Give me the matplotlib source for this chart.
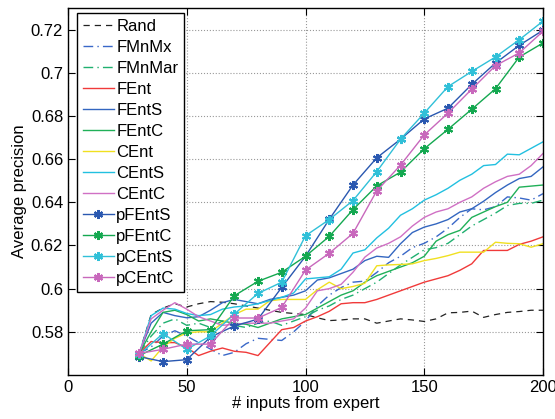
import matplotlib
matplotlib.use("Agg")
import matplotlib.pyplot as plt

plt.rcParams['font.family'] = ['Liberation Sans', 'DejaVu Sans']

# x positions: curves are sampled every 5 inputs, marked curves every 10
x_fine = list(range(30, 205, 5))
x_coarse = list(range(30, 210, 10))

rand = [.570, .588, .591, .593, .5915, .593, .594, .5937, .593, .592,
        .591, .590, .589, .5885, .588, .5865, .5852, .5855, .586, .586,
        .584, .585, .586, .5855, .5848, .586, .5888, .589, .5896, .5867,
        .588, .589, .5894, .590, .590]
fmnmx = [.570, .573, .578, .5805, .578, .575, .572, .569, .5705, .5745,
         .577, .5765, .576, .580, .585, .592, .597, .6005, .603, .6035,
         .6075, .612, .615, .619, .621, .624, .628, .633, .637, .6365,
         .638, .6425, .642, .641, .644]
fmnmar = [.570, .578, .584, .586, .583, .584, .582, .585, .583, .582,
          .584, .585, .583, .585, .587, .590, .592, .595, .597, .600,
          .603, .607, .611, .6145, .618, .619, .621, .625, .629, .632,
          .635, .6385, .6395, .6395, .641]
fent = [.570, .5755, .575, .575, .5727, .569, .571, .5725, .571, .5705,
        .569, .575, .581, .582, .585, .587, .5895, .593, .5935, .5935,
        .595, .597, .599, .601, .603, .6045, .606, .6085, .6115, .6177,
        .6177, .6177, .6205, .622, .624]
fents = [.570, .584, .589, .5875, .5865, .587, .590, .5935, .595, .594,
         .593, .595, .596, .597, .599, .604, .605, .607, .609, .613,
         .615, .6145, .6208, .626, .6285, .630, .632, .6355, .637, .6405,
         .6445, .648, .651, .652, .6564]
fentc = [.570, .580, .589, .590, .588, .585, .586, .585, .584, .5835,
         .582, .584, .586, .587, .588, .591, .594, .597, .599, .603,
         .606, .608, .610, .612, .615, .622, .625, .627, .633, .6355,
         .638, .640, .647, .6475, .648]
cent = [.570, .5665, .573, .577, .5795, .580, .580, .584, .588, .5905,
        .5905, .5944, .595, .595, .595, .5995, .603, .600, .601, .6025,
        .6106, .611, .6112, .6115, .613, .614, .6153, .6169, .6169, .6169,
        .6215, .621, .6208, .6192, .6208]
cents = [.570, .5875, .591, .5905, .5885, .5875, .588, .5905, .5915, .592,
         .593, .5945, .596, .598, .6045, .605, .6055, .609, .6165, .618,
         .6235, .628, .634, .637, .641, .6435, .6465, .6502, .653, .657,
         .6575, .6623, .662, .665, .668]
centc = [.570, .586, .590, .5935, .5905, .587, .585, .583, .5835, .584,
         .584, .584, .585, .586, .591, .599, .600, .602, .6076, .6146,
         .6188, .621, .624, .629, .633, .6355, .637, .640, .6425, .6465,
         .6495, .652, .653, .657, .6626]

pfents = [.5685, .5662, .5671, .5776, .5827, .5859, .6006, .615, .6321,
          .648, .6606, .6692, .6786, .6836, .6946, .7045, .7127, .7197]
pfentc = [.569, .5743, .5805, .581, .5967, .6034, .6076, .615, .6242,
          .6366, .6476, .654, .6648, .6738, .6831, .6926, .7073, .7138]
pcents = [.5695, .5792, .5719, .5781, .5882, .5978, .603, .6245, .632,
          .6408, .6542, .6692, .6813, .6936, .7006, .7073, .7153, .7239]
pcentc = [.570, .5719, .5743, .5743, .5864, .5864, .5913, .6086, .6164,
          .6256, .6453, .6572, .6712, .6813, .6924, .7033, .7092, .7192]

fig = plt.figure(figsize=(5.55, 4.19), dpi=100)
ax = fig.add_axes([68 / 555, 44 / 419, 475 / 555, 367 / 419])

ax.plot(x_fine, rand, color="#222222", ls=(0, (5, 4)), lw=0.9, label="Rand")
ax.plot(x_fine, fmnmx, color="#3a68c8", ls=(0, (7, 3, 1, 3)), lw=1, label="FMnMx")
ax.plot(x_fine, fmnmar, color="#20b070", ls=(0, (7, 3, 1, 3)), lw=1, label="FMnMar")
ax.plot(x_fine, fent, color="#f03a3a", lw=1, label="FEnt")
ax.plot(x_fine, fents, color="#3366c0", lw=1, label="FEntS")
ax.plot(x_fine, fentc, color="#20b058", lw=1, label="FEntC")
ax.plot(x_fine, cent, color="#f0e020", lw=1, label="CEnt")
ax.plot(x_fine, cents, color="#22c0e0", lw=1, label="CEntS")
ax.plot(x_fine, centc, color="#d070c4", lw=1, label="CEntC")

mk = dict(marker=(6, 2, 0), ms=6.5, mew=1.5, lw=1)
ax.plot(x_coarse, pfents, color="#2a58b0", label="pFEntS", **mk)
ax.plot(x_coarse, pfentc, color="#14a850", label="pFEntC", **mk)
ax.plot(x_coarse, pcents, color="#30c0d8", label="pCEntS", **mk)
ax.plot(x_coarse, pcentc, color="#c868bc", label="pCEntC", **mk)

ax.set_xlim(0, 200)
ax.set_ylim(0.56, 0.73)
ax.set_xticks([0, 50, 100, 150, 200])
yt = [0.58, 0.6, 0.62, 0.64, 0.66, 0.68, 0.7, 0.72]
ax.set_yticks(yt)
ax.set_yticklabels(["%g" % v for v in yt])
ax.tick_params(direction="in", top=True, right=True, length=5, labelsize=12)
ax.grid(True, ls=":", color="#999999", lw=0.8)
for s in ax.spines.values():
    s.set_linewidth(1)

ax.set_xlabel("# inputs from expert", fontsize=12, labelpad=1)
ax.set_ylabel("Average precision", fontsize=12, labelpad=3)

leg = ax.legend(loc="upper left", bbox_to_anchor=(9 / 475, 1 - 5 / 367),
                fontsize=12, handlelength=1.85, handletextpad=0.15,
                labelspacing=0.36, borderaxespad=0, borderpad=0.35,
                fancybox=False, framealpha=1, edgecolor="black")
leg.get_frame().set_linewidth(1)

fig.savefig("out.png", dpi=100)
